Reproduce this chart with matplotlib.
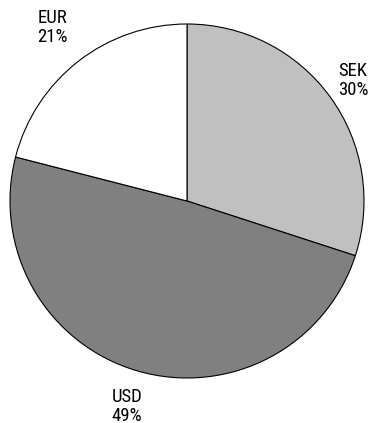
import matplotlib
matplotlib.use("Agg")
import matplotlib.pyplot as plt
import numpy as np

labels = ["SEK", "USD", "EUR"]
values = [30, 49, 21]
colors = ["#c0c0c0", "#808080", "#ffffff"]
label_dist = [1.16, 1.21, 1.24]

plt.rcParams["font.family"] = ["Roboto Condensed", "PT Sans Narrow", "DejaVu Sans"]

fig = plt.figure(figsize=(3.76, 4.23), dpi=100)
W, H = 376, 423
cx, cy, r = 187, 222, 177
ax = fig.add_axes([(cx - r) / W, (cy - r) / H, 2 * r / W, 2 * r / H])
wedges, _ = ax.pie(values, colors=colors, startangle=90, counterclock=False,
                   radius=1, wedgeprops=dict(edgecolor="black", linewidth=0.8))
ax.set_xlim(-1, 1)
ax.set_ylim(-1, 1)
ax.set_aspect("equal")
ax.axis("off")
total = sum(values)
start = 90.0
for lab, v, d in zip(labels, values, label_dist):
    ang = np.deg2rad(start - 360 * v / total / 2)
    start -= 360 * v / total
    fig.text(d * np.cos(ang), d * np.sin(ang), f"{lab}\n{v}%", ha="center", va="center",
             multialignment="center", fontsize=13.5, linespacing=1.1,
             transform=ax.transData)
fig.savefig("out.png", dpi=100)
